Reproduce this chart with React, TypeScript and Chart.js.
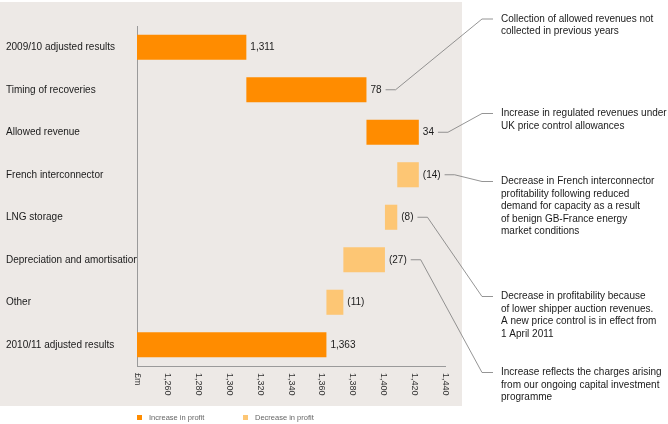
import React, { useEffect, useRef } from 'react';
import { Chart, registerables } from 'chart.js';

Chart.register(...registerables);

// ---------- data ----------
const categories = [
  '2009/10 adjusted results',
  'Timing of recoveries',
  'Allowed revenue',
  'French interconnector',
  'LNG storage',
  'Depreciation and amortisation',
  'Other',
  '2010/11 adjusted results',
];
const changes = [1311, 78, 34, -14, -8, -27, -11, 1363];
const isTotal = [true, false, false, false, false, false, false, true];
const valueLabels = ['1,311', '78', '34', '(14)', '(8)', '(27)', '(11)', '1,363'];
const axisMin = 1240;
const axisMax = 1440;
const xTickValues = [1240, 1260, 1280, 1300, 1320, 1340, 1360, 1380, 1400, 1420, 1440];
const xTickLabels = ['£m', '1,260', '1,280', '1,300', '1,320', '1,340', '1,360', '1,380', '1,400', '1,420', '1,440'];
const seriesNames = ['Increase in profit', 'Decrease in profit'];

const noteRows = [1, 2, 3, 4, 5];
const noteTexts = [
  ['Collection of allowed revenues not', 'collected in previous years'],
  ['Increase in regulated revenues under', 'UK price control allowances'],
  [
    'Decrease in French interconnector',
    'profitability following reduced',
    'demand for capacity as a result',
    'of benign GB-France energy',
    'market conditions',
  ],
  [
    'Decrease in profitability because',
    'of lower shipper auction revenues.',
    'A new price control is in effect from',
    '1 April 2011',
  ],
  [
    'Increase reflects the charges arising',
    'from our ongoing capital investment',
    'programme',
  ],
];

// ---------- derived floating ranges ----------
const ranges: [number, number][] = (() => {
  let running = 0;
  return changes.map((c, i) => {
    if (isTotal[i]) {
      running = c;
      return [axisMin, c] as [number, number];
    }
    const s = running;
    running += c;
    return [Math.min(s, running), Math.max(s, running)] as [number, number];
  });
})();

const increaseData = ranges.map((r, i) => (changes[i] >= 0 ? r : null));
const decreaseData = ranges.map((r, i) => (changes[i] < 0 ? r : null));

// ---------- styles ----------
const FONT = "'Liberation Sans', Arial, Helvetica, sans-serif";
const ORANGE = '#FF8C00';
const LIGHT = '#FDC674';
const PANEL = '#EDE9E6';
const TEXT = '#1a1a1a';
const noteY = [19, 113.5, 181.5, 296.5, 372.5];

const panelPlugin = {
  id: 'panelBg',
  beforeDraw(chart: any) {
    const ctx = chart.ctx;
    ctx.save();
    ctx.fillStyle = '#ffffff';
    ctx.fillRect(0, 0, chart.width, chart.height);
    ctx.fillStyle = PANEL;
    ctx.fillRect(0, 2, 462, 404);
    ctx.restore();
  },
};

const overlayPlugin = {
  id: 'overlay',
  afterDraw(chart: any) {
    const ctx = chart.ctx;
    const xs = chart.scales.x;
    const ys = chart.scales.y;
    ctx.save();

    // value labels
    ctx.font = `10px ${FONT}`;
    ctx.fillStyle = TEXT;
    ctx.textBaseline = 'middle';
    ctx.textAlign = 'left';
    const labelEnds: number[] = [];
    ranges.forEach((r, i) => {
      const x = xs.getPixelForValue(r[1]) + 4;
      const y = ys.getPixelForValue(i);
      ctx.fillText(valueLabels[i], x, y);
      labelEnds.push(x + ctx.measureText(valueLabels[i]).width);
    });

    // rotated x tick labels
    ctx.font = `9px ${FONT}`;
    ctx.fillStyle = '#333333';
    xTickValues.forEach((v, i) => {
      const px = xs.getPixelForValue(v);
      ctx.save();
      ctx.translate(px, xs.bottom + 7);
      ctx.rotate(Math.PI / 2);
      ctx.textAlign = 'left';
      ctx.textBaseline = 'middle';
      ctx.fillText(xTickLabels[i], 0, 0);
      ctx.restore();
    });

    // annotations with leader lines
    ctx.strokeStyle = '#7a7a7a';
    ctx.lineWidth = 0.8;
    ctx.font = `10px ${FONT}`;
    ctx.fillStyle = TEXT;
    ctx.textAlign = 'left';
    ctx.textBaseline = 'middle';
    noteRows.forEach((row, k) => {
      const y0 = ys.getPixelForValue(row);
      const sx = labelEnds[row] + 4;
      const ty = noteY[k];
      ctx.beginPath();
      ctx.moveTo(sx, y0);
      ctx.lineTo(sx + 10, y0);
      ctx.lineTo(482, ty);
      ctx.lineTo(493, ty);
      ctx.stroke();
      noteTexts[k].forEach((line, j) => {
        ctx.fillText(line, 501, ty + j * 12.5);
      });
    });

    // legend
    const legendItems = [
      { x: 137, color: ORANGE },
      { x: 243, color: LIGHT },
    ];
    ctx.font = `7.5px ${FONT}`;
    legendItems.forEach((it, i) => {
      ctx.fillStyle = it.color;
      ctx.fillRect(it.x, 415, 5, 5);
      ctx.fillStyle = '#666666';
      ctx.fillText(seriesNames[i], it.x + 12, 417.5);
    });

    ctx.restore();
  },
};

export default function App() {
  const ref = useRef<HTMLCanvasElement | null>(null);

  useEffect(() => {
    if (!ref.current) return;
    Chart.defaults.font.family = FONT;
    const chart = new Chart(ref.current, {
      type: 'bar',
      data: {
        labels: categories,
        datasets: [
          {
            label: seriesNames[0],
            data: increaseData as any,
            backgroundColor: ORANGE,
            borderWidth: 0,
          },
          {
            label: seriesNames[1],
            data: decreaseData as any,
            backgroundColor: LIGHT,
            borderWidth: 0,
          },
        ],
      },
      options: {
        indexAxis: 'y',
        responsive: false,
        devicePixelRatio: 1,
        animation: false,
        datasets: {
          bar: {
            grouped: false,
            categoryPercentage: 1,
            barPercentage: 0.59,
          },
        },
        layout: {
          padding: { left: 6, right: 223, top: 26, bottom: 58 },
        },
        scales: {
          x: {
            type: 'linear',
            position: 'bottom',
            min: axisMin,
            max: axisMax,
            ticks: { display: false, stepSize: 20 },
            grid: { display: false, drawTicks: false, tickLength: 0 },
            border: { display: true, color: '#9a9a9a', width: 1 },
          },
          y: {
            type: 'category',
            position: 'left',
            grid: { display: false, drawTicks: false, tickLength: 0 },
            border: { display: true, color: '#9a9a9a', width: 1 },
            ticks: {
              crossAlign: 'far',
              color: TEXT,
              font: { size: 10, family: FONT },
              padding: 0,
            },
            afterFit: (scale: any) => {
              scale.width = 131;
            },
          },
        },
        plugins: {
          legend: { display: false },
          tooltip: { enabled: false },
        },
      } as any,
      plugins: [panelPlugin, overlayPlugin],
    });
    return () => chart.destroy();
  }, []);

  return (
    <div style={{ position: 'fixed', left: 0, top: 0, width: 668, height: 424, background: '#fff' }}>
      <canvas ref={ref} width={668} height={424} style={{ display: 'block' }} />
    </div>
  );
}
